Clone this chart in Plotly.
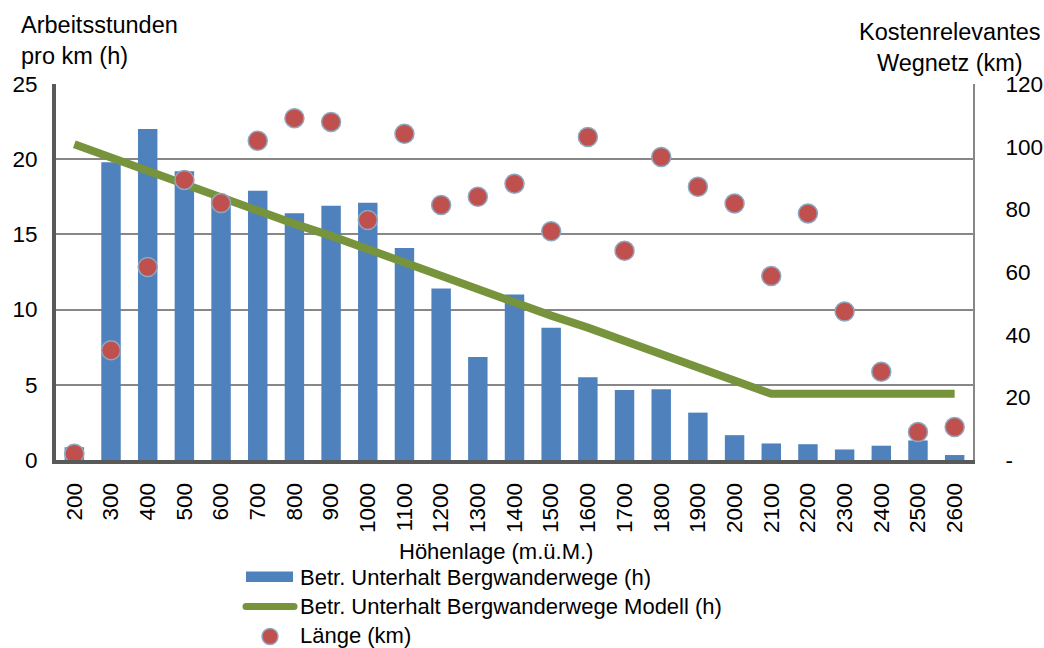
import plotly.graph_objects as go

# Höhenstufen (m ü. M.)
hoehenlage = ["200", "300", "400", "500", "600", "700", "800", "900", "1000",
              "1100", "1200", "1300", "1400", "1500", "1600", "1700", "1800",
              "1900", "2000", "2100", "2200", "2300", "2400", "2500", "2600"]

# Betrieblicher Unterhalt Bergwanderwege, Arbeitsstunden pro km
unterhalt_h = [0.85, 19.8, 22.0, 19.2, 17.5, 17.9, 16.4, 16.9, 17.1, 14.1,
               11.4, 6.85, 11.0, 8.8, 5.5, 4.65, 4.7, 3.15, 1.65, 1.1,
               1.05, 0.7, 0.95, 1.3, 0.33]

# Modellwerte Betrieblicher Unterhalt, Arbeitsstunden pro km
modell_h = [21.0, 20.1, 19.2, 18.4, 17.5, 16.6, 15.7, 14.9, 14.0, 13.1,
            12.3, 11.4, 10.5, 9.6, 8.8, 7.9, 7.0, 6.1, 5.3, 4.4,
            4.4, 4.4, 4.4, 4.4, 4.4]

# Kostenrelevantes Wegnetz, Länge in km
laenge_km = [2.0, 35.0, 61.6, 89.4, 82.0, 101.9, 109.1, 107.9, 76.6, 104.1,
             81.4, 84.0, 88.2, 73.0, 103.1, 66.8, 96.7, 87.2, 81.9, 58.7,
             78.7, 47.4, 28.2, 8.9, 10.5]

# Achsenbeschriftungen
y2_ticks = [0, 20, 40, 60, 80, 100, 120]
y2_labels = ["-", "20", "40", "60", "80", "100", "120"]

legend_labels = ["Betr. Unterhalt Bergwanderwege (h)",
                 "Betr. Unterhalt Bergwanderwege Modell (h)",
                 "Länge (km)"]

BLUE = "#4F81BD"
GREEN = "#77933C"
RED = "#C0504D"
RING = "#8FA6BF"
GRID = "#878787"
AXIS = "#595959"
FONT = "Liberation Sans, Arial, sans-serif"

W, H = 1044, 648
L, R, T, B = 56, 71, 84, 188
PW, PH = W - L - R, H - T - B


def px(x):
    return (x - L) / PW


def py(y):
    return (H - B - y) / PH


fig = go.Figure()

fig.add_trace(go.Bar(
    x=hoehenlage, y=unterhalt_h, name=legend_labels[0],
    marker=dict(color=BLUE, line=dict(width=0)),
    yaxis="y", showlegend=False,
))

fig.add_trace(go.Scatter(
    x=hoehenlage, y=modell_h, name=legend_labels[1], mode="lines",
    line=dict(color=GREEN, width=8),
    yaxis="y", showlegend=False,
))

fig.add_trace(go.Scatter(
    x=hoehenlage, y=laenge_km, name=legend_labels[2], mode="markers",
    marker=dict(color=RED, size=19, line=dict(color=RING, width=1.5)),
    yaxis="y2", showlegend=False,
))

# Legende als Formen und Texte unter dem Diagramm
shapes = [
    dict(type="rect", xref="paper", yref="paper",
         x0=px(246), x1=px(293), y0=py(582), y1=py(571.5),
         fillcolor=BLUE, line=dict(width=0)),
    dict(type="line", xref="paper", yref="paper",
         x0=px(246), x1=px(294), y0=py(606.5), y1=py(606.5),
         line=dict(color=GREEN, width=7)),
    dict(type="circle", xref="paper", yref="paper",
         x0=px(262), x1=px(278), y0=py(644.5), y1=py(628.5),
         fillcolor=RED, line=dict(color=RING, width=1.5)),
]
# runde Linienenden der Legendenlinie
for cx in (246, 294):
    shapes.append(dict(type="circle", xref="paper", yref="paper",
                       x0=px(cx - 3.5), x1=px(cx + 3.5),
                       y0=py(606.5 + 3.5), y1=py(606.5 - 3.5),
                       fillcolor=GREEN, line=dict(width=0)))

annotations = [
    dict(text="Arbeitsstunden<br>pro km (h)", xref="paper", yref="paper",
         x=px(19), y=py(10), xanchor="left", yanchor="top", align="left",
         showarrow=False, font=dict(size=23.5)),
    dict(text="Kostenrelevantes<br>Wegnetz (km)", xref="paper", yref="paper",
         x=px(950), y=py(17), xanchor="center", yanchor="top", align="center",
         showarrow=False, font=dict(size=23.5)),
    dict(text="Höhenlage (m.ü.M.)", xref="paper", yref="paper",
         x=px(495.5), y=py(551.5), xanchor="center", yanchor="middle",
         showarrow=False, font=dict(size=22)),
]
for label, yc in zip(legend_labels, (577, 606.5, 635.5)):
    annotations.append(dict(text=label, xref="paper", yref="paper",
                            x=px(298), y=py(yc), xanchor="left", yanchor="middle",
                            showarrow=False, font=dict(size=22)))

fig.update_layout(
    width=W, height=H,
    margin=dict(l=L, r=R, t=T, b=B, pad=0, autoexpand=False),
    paper_bgcolor="white", plot_bgcolor="white",
    font=dict(family=FONT, size=22, color="black"),
    bargap=0.47,
    showlegend=False,
    shapes=shapes,
    annotations=annotations,
    xaxis=dict(
        type="category", range=[-0.5, len(hoehenlage) - 0.5],
        tickangle=-90, showgrid=False, zeroline=False, automargin=False,
        showline=True, linecolor=AXIS, linewidth=4, ticks="",
        tickfont=dict(size=22.5), ticklabelstandoff=10,
    ),
    yaxis=dict(
        range=[0, 25], dtick=5, showgrid=True, gridcolor=GRID, gridwidth=2,
        zeroline=False, showline=True, linecolor=AXIS, linewidth=4,
        automargin=False,
        ticks="", tickfont=dict(size=22.5), ticklabelstandoff=10,
    ),
    # rechte Achse: Beschriftung mit unsichtbaren langen Teilstrichen als Abstand
    yaxis2=dict(
        overlaying="y", side="right", range=[0, 120],
        tickvals=y2_ticks, ticktext=y2_labels,
        showgrid=False, zeroline=False,
        showline=True, linecolor=GRID, linewidth=2, automargin=False,
        ticks="outside", ticklen=26, tickwidth=1, tickcolor="rgba(0,0,0,0)",
        tickfont=dict(size=22.5),
    ),
    # rechte Achse: sichtbare kurze Teilstriche
    yaxis3=dict(
        overlaying="y", side="right", range=[0, 120],
        tickvals=y2_ticks, showticklabels=False,
        showgrid=False, zeroline=False,
        showline=True, linecolor=GRID, linewidth=2, automargin=False,
        ticks="outside", ticklen=7, tickwidth=2, tickcolor=GRID,
    ),
)

fig.write_html("out.html")
